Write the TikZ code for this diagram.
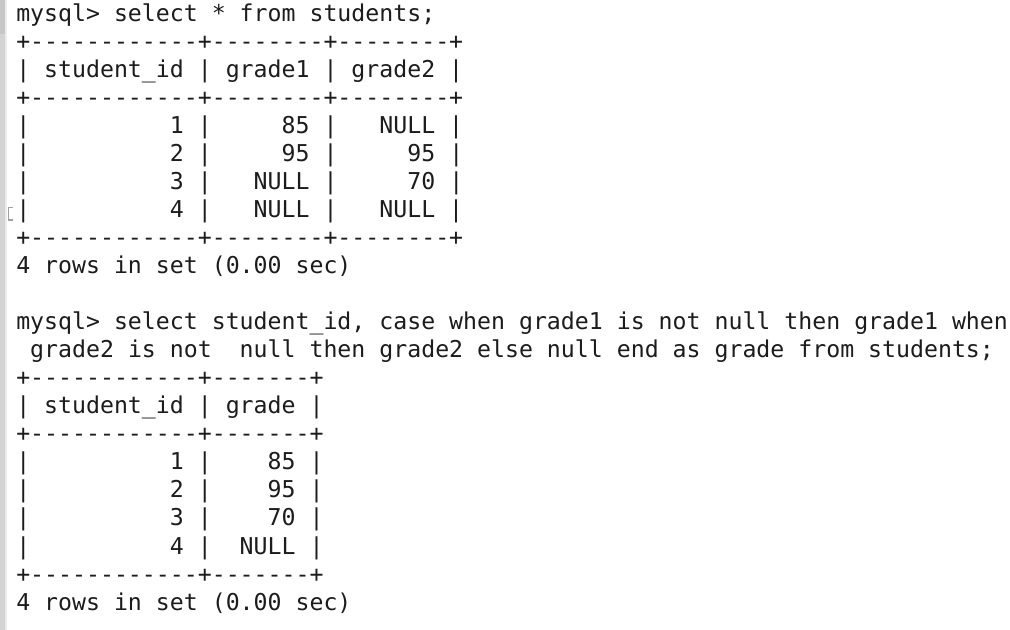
\documentclass[tikz,border=0pt]{standalone}
\usepackage{fontspec}
\setmonofont{DejaVu Sans Mono}
\usepackage{xcolor}

\begin{document}
\begin{tikzpicture}[x=0.75pt,y=0.75pt,yscale=-1.,xscale=1.,
    term/.style={anchor=base west,inner sep=0pt,text={rgb,255:red,28;green,28;blue,28},
      font=\ttfamily\fontsize{17.4pt}{21pt}\selectfont}]
    \useasboundingbox (0,0) rectangle (1010,630);
    \fill [white] (0,0) rectangle (1010,630);
    
    %Shape: Left margin strip
    \fill [color={rgb, 255:red, 212; green, 212; blue, 212 }] (0,0) rectangle (5,630);
    \fill [color={rgb, 255:red, 198; green, 198; blue, 198 }] (0,0) rectangle (5,34);
    \fill [color={rgb, 255:red, 236; green, 236; blue, 236 }] (5,0) rectangle (7,630);
    %Shape: Cursor mark
    \draw [color={rgb, 255:red, 160; green, 160; blue, 160 }, line width=1.2] (12.5,207.5) -- (8.5,207.5) -- (8.5,220) -- (12.5,220);
    
    % Text Node
    \draw (16,22) node [term] (q1) {mysql> select * from students;};
    % Text Node
    \draw (16,50) node [term] (t1a) {+------------+--------+--------+};
    % Text Node
    \draw (16,78) node [term] (t1h) {|~student\_id~|~grade1~|~grade2~|};
    % Text Node
    \draw (16,106) node [term] (t1b) {+------------+--------+--------+};
    % Text Node
    \draw (16,134) node [term] (r1a) {|~~~~~~~~~~1~|~~~~~85~|~~~NULL~|};
    % Text Node
    \draw (16,162) node [term] (r1b) {|~~~~~~~~~~2~|~~~~~95~|~~~~~95~|};
    % Text Node
    \draw (16,190) node [term] (r1c) {|~~~~~~~~~~3~|~~~NULL~|~~~~~70~|};
    % Text Node
    \draw (16,218) node [term] (r1d) {|~~~~~~~~~~4~|~~~NULL~|~~~NULL~|};
    % Text Node
    \draw (16,246) node [term] (t1c) {+------------+--------+--------+};
    % Text Node
    \draw (16,274) node [term] (s1) {4 rows in set (0.00 sec)};
    
    % Text Node
    \draw (16,330) node [term] (q2a) {mysql> select student\_id, case when grade1 is not null then grade1 when};
    % Text Node
    \draw (16,358) node [term] (q2b) {~grade2 is not~~null then grade2 else null end as grade from students;};
    % Text Node
    \draw (16,386) node [term] (t2a) {+------------+-------+};
    % Text Node
    \draw (16,414) node [term] (t2h) {|~student\_id~|~grade~|};
    % Text Node
    \draw (16,442) node [term] (t2b) {+------------+-------+};
    % Text Node
    \draw (16,470) node [term] (r2a) {|~~~~~~~~~~1~|~~~~85~|};
    % Text Node
    \draw (16,498) node [term] (r2b) {|~~~~~~~~~~2~|~~~~95~|};
    % Text Node
    \draw (16,526) node [term] (r2c) {|~~~~~~~~~~3~|~~~~70~|};
    % Text Node
    \draw (16,554) node [term] (r2d) {|~~~~~~~~~~4~|~~NULL~|};
    % Text Node
    \draw (16,582) node [term] (t2c) {+------------+-------+};
    % Text Node
    \draw (16,610) node [term] (s2) {4 rows in set (0.00 sec)};
    
\end{tikzpicture}
\end{document}
